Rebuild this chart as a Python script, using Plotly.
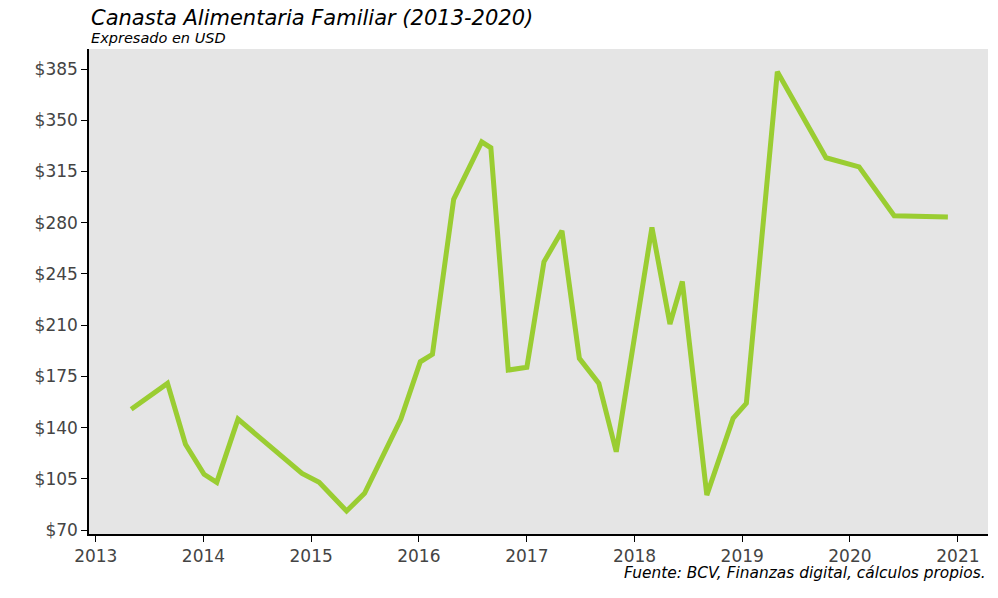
import plotly.graph_objects as go

fechas = [
    "2013-05-01", "2013-09-01", "2013-11-01", "2014-01-03", "2014-02-15",
    "2014-04-28", "2014-12-01", "2015-01-28", "2015-05-01", "2015-07-01",
    "2015-11-01", "2016-01-06", "2016-02-16", "2016-04-28", "2016-08-01",
    "2016-09-01", "2016-10-30", "2017-01-01", "2017-02-28", "2017-04-30",
    "2017-06-28", "2017-09-02", "2017-10-31", "2018-03-01", "2018-05-01",
    "2018-06-12", "2018-09-03", "2018-12-01", "2019-01-15", "2019-04-30",
    "2019-10-12", "2020-02-01", "2020-05-30", "2020-11-28",
]
valores = [
    152.5, 170.2, 128.6, 108.1, 102.6,
    145.8, 108.7, 102.6, 83.0, 95.1,
    145.8, 185.0, 190.1, 296.0, 335.3,
    331.2, 179.3, 181.2, 253.3, 274.5,
    187.3, 170.2, 123.5, 276.8, 210.8,
    239.8, 93.9, 146.3, 156.6, 383.2,
    324.4, 318.2, 284.8, 283.9,
]
y_ticks = [70, 105, 140, 175, 210, 245, 280, 315, 350, 385]
y_tick_labels = ["$" + str(v) for v in y_ticks]
x_ticks = ["2013-01-01", "2014-01-01", "2015-01-01", "2016-01-01", "2017-01-01",
           "2018-01-01", "2019-01-01", "2020-01-01", "2021-01-01"]
x_tick_labels = ["2013", "2014", "2015", "2016", "2017", "2018", "2019", "2020", "2021"]

titulo = "Canasta Alimentaria Familiar (2013-2020)"
subtitulo = "Expresado en USD"
fuente = "Fuente: BCV, Finanzas digital, cálculos propios."

FONT = "Verdana, DejaVu Sans, sans-serif"

fig = go.Figure()
fig.add_trace(go.Scatter(
    x=fechas, y=valores, mode="lines",
    line=dict(color="#9ACD32", width=5),
    hovertemplate="%{x}<br>$%{y}<extra></extra>",
))

fig.update_layout(
    width=990, height=590,
    margin=dict(l=81, r=10, t=41, b=64),
    paper_bgcolor="white",
    plot_bgcolor="#E5E5E5",
    showlegend=False,
    font=dict(family=FONT, color="#444"),
    xaxis=dict(
        type="date",
        range=["2012-12-09", "2021-04-13"],
        tickvals=x_ticks, ticktext=x_tick_labels,
        showgrid=False, zeroline=False,
        showline=True, linecolor="black", linewidth=1.5,
        ticks="outside", tickcolor="black", ticklen=6,
        tickfont=dict(size=17, color="#444"),
        automargin=False,
    ),
    yaxis=dict(
        range=[67.3, 398.7],
        tickvals=y_ticks, ticktext=y_tick_labels,
        showgrid=False, zeroline=False,
        showline=True, linecolor="black", linewidth=1.5,
        ticks="outside", tickcolor="black", ticklen=6,
        tickfont=dict(size=17, color="#444"),
        automargin=False,
    ),
    annotations=[
        dict(text="<i>" + titulo + "</i>", xref="paper", yref="paper",
             x=0.0, y=1.064, xanchor="left", yanchor="middle",
             showarrow=False, font=dict(size=21, color="black", family=FONT)),
        dict(text="<i>" + subtitulo + "</i>", xref="paper", yref="paper",
             x=0.0, y=1.0227, xanchor="left", yanchor="middle",
             showarrow=False, font=dict(size=14.5, color="black", family=FONT)),
        dict(text="<i>" + fuente + "</i>", xref="paper", yref="paper",
             x=1.0, y=-0.0804, xanchor="right", yanchor="middle",
             showarrow=False, font=dict(size=15.4, color="black", family=FONT)),
    ],
)

fig.write_html("out.html")
